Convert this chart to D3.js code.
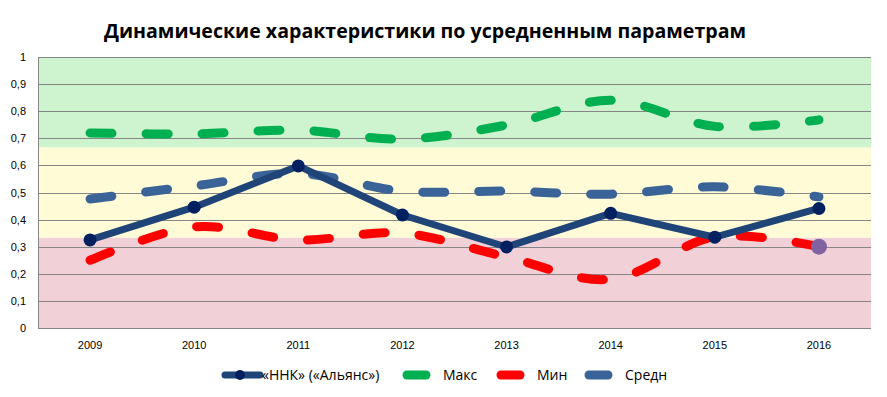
<!DOCTYPE html>
<html><head><meta charset="utf-8">
<script src="https://cdn.jsdelivr.net/npm/d3@7"></script>
<style>body{margin:0;background:#fff;} svg{display:block;font-family:"Open Sans","DejaVu Sans",sans-serif;}</style>
</head><body>
<svg id="c" width="887" height="397"></svg>
<script>
const title = "Динамические характеристики по усредненным параметрам";
const years = ["2009","2010","2011","2012","2013","2014","2015","2016"];
const yTicks = [0,0.1,0.2,0.3,0.4,0.5,0.6,0.7,0.8,0.9,1];
const nnk  = [0.325,0.446,0.598,0.417,0.299,0.423,0.335,0.441];
const maks = [0.720,0.716,0.730,0.697,0.749,0.840,0.744,0.768];
const min  = [0.250,0.373,0.325,0.350,0.262,0.180,0.336,0.300];
const sred = [0.476,0.524,0.570,0.505,0.505,0.494,0.521,0.484];
const bands = [[0,1/3,"#F2D0D7"],[1/3,2/3,"#FFFBD7"],[2/3,1,"#CEF3CF"]];
const legendNames = ["«ННК» («Альянс»)","Макс","Мин","Средн"];

const svg = d3.select("#c");
const L=38,R=871,T=57,B=328;
const x = d3.scaleBand().domain(years).range([L,R]);
const y = d3.scaleLinear().domain([0,1]).range([B,T]);
const cx = d => x(d)+x.bandwidth()/2;

// bands
svg.selectAll("rect.band").data(bands).join("rect")
  .attr("x",L).attr("width",R-L)
  .attr("y",d=>y(d[1])).attr("height",d=>y(d[0])-y(d[1]))
  .attr("fill",d=>d[2]);

// gridlines
svg.selectAll("line.grid").data(yTicks).join("line")
  .attr("x1",L).attr("x2",R).attr("y1",d=>Math.round(y(d))+0.5).attr("y2",d=>Math.round(y(d))+0.5)
  .attr("stroke","#868686").attr("stroke-width",1);
svg.append("line").attr("x1",L+0.5).attr("x2",L+0.5).attr("y1",y(1)).attr("y2",y(0)+0.5).attr("stroke","#868686");

// y axis labels
const yAx = svg.append("g").attr("transform",`translate(${L},0)`)
  .call(d3.axisLeft(y).tickValues(yTicks).tickSize(0).tickPadding(12).tickFormat(d=>String(d).replace(".",",")));
yAx.select(".domain").remove();
yAx.selectAll("text").attr("font-size",11).attr("fill","#000");

// x axis labels
const xAx = svg.append("g").attr("transform",`translate(0,${B})`)
  .call(d3.axisBottom(x).tickSize(0).tickPadding(13));
xAx.select(".domain").remove();
xAx.selectAll("text").attr("font-size",11).attr("fill","#000");

// lines
const smooth = d3.line().x((d,i)=>cx(years[i])).y(d=>y(d)).curve(d3.curveCatmullRom.alpha(0));
const straight = d3.line().x((d,i)=>cx(years[i])).y(d=>y(d));
const dashed = [[maks,"#00B050"],[min,"#FF0000"],[sred,"#3A6397"]];
svg.selectAll("path.dl").data(dashed).join("path")
  .attr("d",d=>smooth(d[0])).attr("fill","none").attr("stroke",d=>d[1])
  .attr("stroke-width",9).attr("stroke-linecap","round").attr("stroke-dasharray","22,34");

svg.append("path").attr("d",straight(nnk)).attr("fill","none").attr("stroke","#1F4478")
  .attr("stroke-width",7).attr("stroke-linejoin","round");
svg.selectAll("circle.m").data(nnk).join("circle")
  .attr("cx",(d,i)=>cx(years[i])).attr("cy",d=>y(d)).attr("r",6.5).attr("fill","#002060");
// highlighted last min point
svg.append("circle").attr("cx",cx(years[7])).attr("cy",y(min[7])).attr("r",8).attr("fill","#8064A2");

// title
svg.append("text").attr("x",425).attr("y",38).attr("text-anchor","middle")
  .attr("font-size",20).attr("font-weight","bold").attr("fill","#000")
  .attr("textLength",642).attr("lengthAdjust","spacingAndGlyphs").text(title);

// legend
const ly = 375;
const lg = svg.append("g");
lg.append("line").attr("x1",225).attr("x2",260).attr("y1",ly).attr("y2",ly).attr("stroke","#1F4478").attr("stroke-width",7).attr("stroke-linecap","round");
lg.append("circle").attr("cx",240).attr("cy",ly).attr("r",5).attr("fill","#002060");
const items = [[legendNames[0],null,262],[legendNames[1],"#00B050",443],[legendNames[2],"#FF0000",537],[legendNames[3],"#3A6397",625]];
items.forEach(([n,c,tx])=>{
  if(c){ lg.append("line").attr("x1",tx-36).attr("x2",tx-17).attr("y1",ly).attr("y2",ly).attr("stroke",c).attr("stroke-width",9).attr("stroke-linecap","round"); }
  lg.append("text").attr("x",tx).attr("y",ly+5).attr("font-size",14).attr("fill","#000").text(n);
});
</script>
</body></html>
